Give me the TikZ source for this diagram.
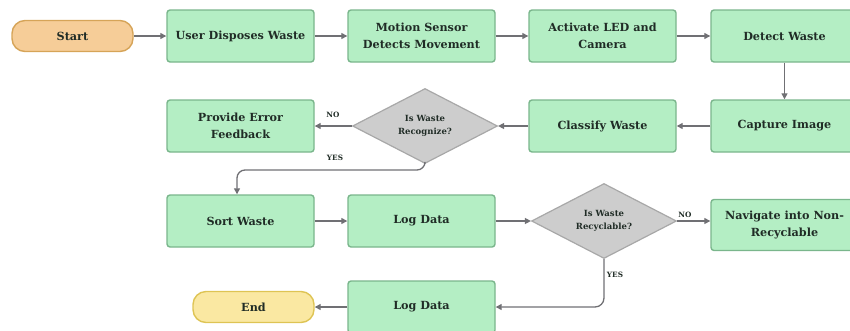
\documentclass[tikz,border=0pt]{standalone}
\usepackage{fontspec}
\setmainfont{DejaVu Serif}
\usetikzlibrary{shapes.geometric,arrows.meta}
\definecolor{gfill}{RGB}{180,238,196}
\definecolor{gline}{RGB}{122,182,140}
\definecolor{ofill}{RGB}{246,205,152}
\definecolor{oline}{RGB}{214,164,88}
\definecolor{yfill}{RGB}{250,232,162}
\definecolor{yline}{RGB}{222,196,84}
\definecolor{dfill}{RGB}{205,205,205}
\definecolor{dline}{RGB}{168,168,168}
\definecolor{aline}{RGB}{112,112,116}
\definecolor{tcol}{RGB}{32,44,38}
\tikzset{
  x=1pt,y=-1pt,
  every node/.style={text=tcol,font=\bfseries\fontsize{11.2}{17}\selectfont},
  procbox/.style={draw=gline,fill=gfill,line width=1.4pt,rounded corners=3pt,minimum width=147pt,minimum height=52pt,align=center,inner sep=0pt},
  termbox/.style={draw=#1line,fill=#1fill,line width=1.4pt,rounded corners=13pt,minimum width=121pt,minimum height=31pt,inner sep=0pt},
  decbox/.style={draw=dline,fill=dfill,line width=1.2pt,diamond,aspect=1.93,minimum width=145pt,minimum height=75pt,inner sep=0pt,align=center,font=\bfseries\fontsize{8.5}{13}\selectfont},
  conn/.style={draw=aline,line width=1.3pt,-{Triangle[length=6pt,width=6pt]}},
  lab/.style={font=\bfseries\fontsize{7.3}{8}\selectfont,inner sep=0pt}
}
\begin{document}
\begin{tikzpicture}
\useasboundingbox (0,0) rectangle (850,330);
\begin{scope}
\clip (0,0) rectangle (850,330);
\node[termbox=o] (start) at (72.5,36) {Start};
\node[procbox] (user) at (240.5,36) {User Disposes Waste};
\node[procbox] (motion) at (421.5,36) {Motion Sensor\\Detects Movement};
\node[procbox] (led) at (602.5,36) {Activate LED and\\Camera};
\node[procbox] (detect) at (784.5,36) {Detect Waste};
\node[procbox] (capture) at (784.5,126) {Capture Image};
\node[procbox] (classify) at (602.5,126) {Classify Waste};
\node[decbox] (recog) at (425,126) {Is Waste\\Recognize?};
\node[procbox] (error) at (240.5,126) {Provide Error\\Feedback};
\node[procbox] (sort) at (240.5,221) {Sort Waste};
\node[procbox] (log1) at (421.5,221) {Log Data};
\node[decbox] (recyc) at (604,221) {Is Waste\\Recyclable?};
\node[procbox,minimum height=51pt] (nav) at (784.5,225) {Navigate into Non-\\Recyclable};
\node[procbox] (log2) at (421.5,307) {Log Data};
\node[termbox=y] (end) at (253.5,307) {End};
\end{scope}
\coordinate (c1) at (237,170);
\draw[conn,rounded corners=8pt] (recog.south) |- (c1) -- (sort.north -| c1);
\draw[conn] (start) -- (user);
\draw[conn] (user) -- (motion);
\draw[conn] (motion) -- (led);
\draw[conn] (led) -- (detect);
\draw[conn] (detect) -- (capture);
\draw[conn] (capture) -- (classify);
\draw[conn] (classify) -- (recog);
\draw[conn] (recog) -- (error);
\draw[conn] (sort) -- (log1);
\draw[conn] (log1) -- (recyc);
\draw[conn] (recyc.east) -- (nav.west |- recyc.east);
\draw[conn,rounded corners=9pt] (recyc.south) |- (log2.east);
\draw[conn] (log2) -- (end);
\node[lab] at (333,115) {NO};
\node[lab] at (335,158) {YES};
\node[lab] at (685,215) {NO};
\node[lab] at (615,275) {YES};
\end{tikzpicture}
\end{document}
